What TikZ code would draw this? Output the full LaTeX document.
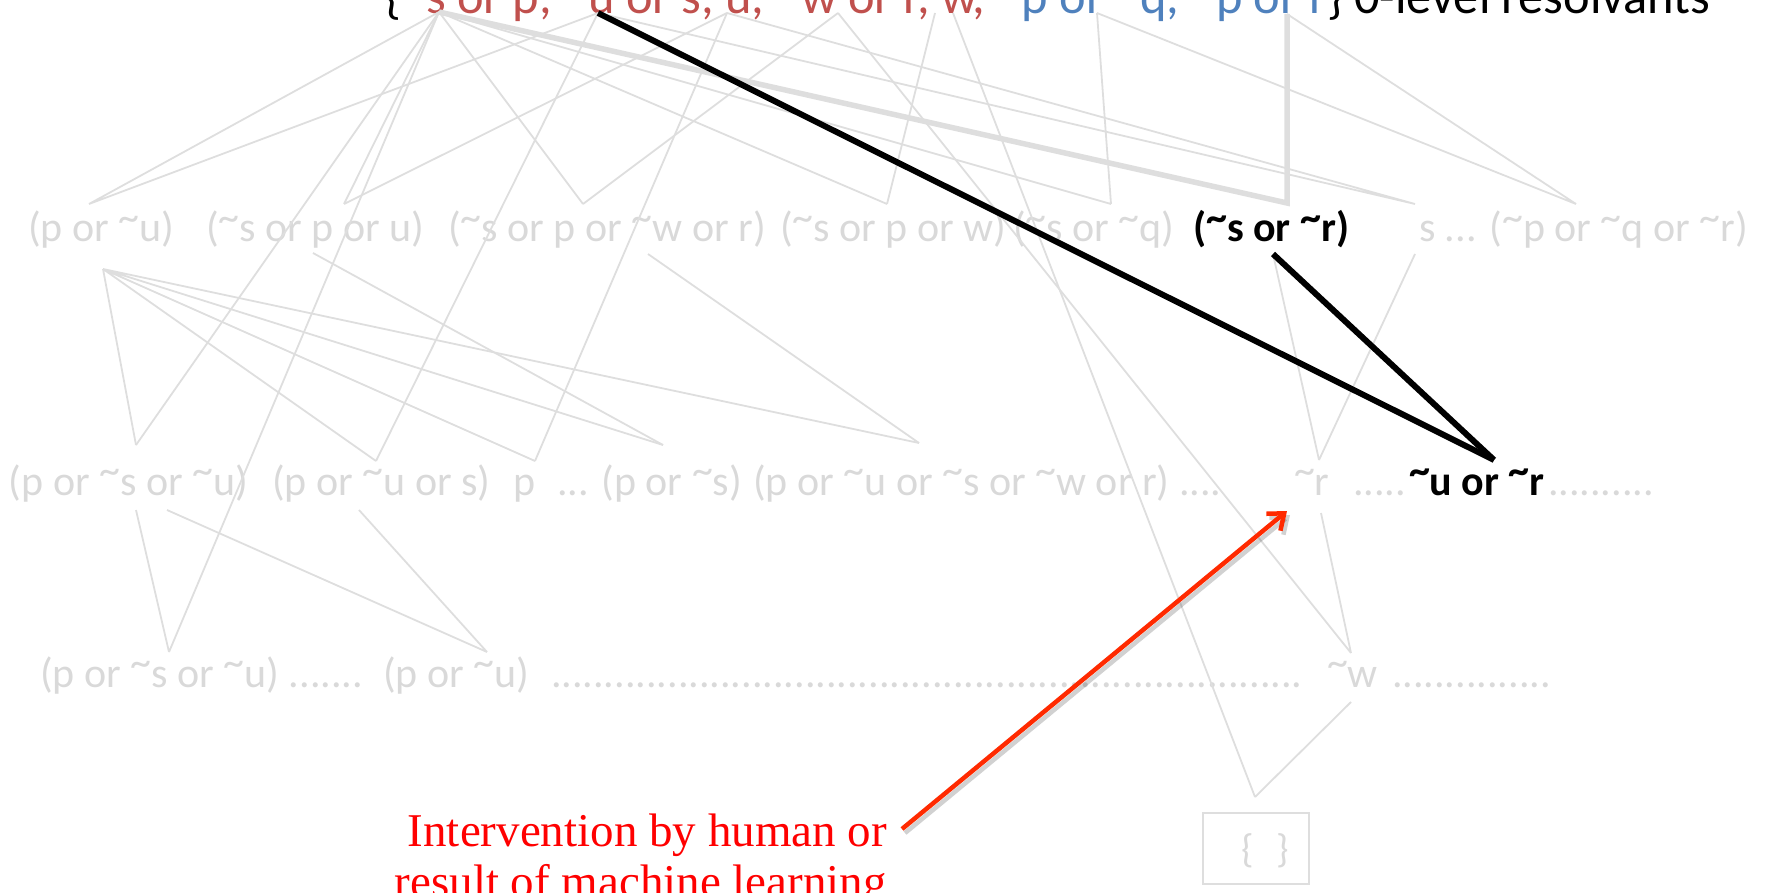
\documentclass[tikz,border=0pt]{standalone}
\usepackage{fontspec}
\setmainfont{Carlito}
\newfontfamily\notefont{Liberation Serif}
\usetikzlibrary{arrows.meta}
\definecolor{lg}{HTML}{DEDEDE}
\definecolor{lt}{HTML}{D9D9D9}
\definecolor{hred}{HTML}{C0504D}
\definecolor{hblue}{HTML}{4F81BD}
\definecolor{arrcol}{HTML}{FF2A00}
\definecolor{notecol}{HTML}{FF0000}
\newcommand{\tl}{\raisebox{0.26em}{\textasciitilde}}
\begin{document}
\begin{tikzpicture}[x=1pt,y=-1pt,
  lbl/.style={anchor=base west, inner sep=0pt, outer sep=0pt, text=lt, font=\fontsize{42}{50}\selectfont},
  hlbl/.style={lbl, text=black, font=\fontsize{42}{50}\selectfont\bfseries},
  edge/.style={draw=lg, line width=1.8pt},
  hotgray/.style={draw=lg, line width=5.5pt},
  blk/.style={draw=black, line width=6pt},
  note/.style={anchor=base east, inner sep=0pt, text=notecol, font=\notefont\fontsize{47}{51}\selectfont},
]
\useasboundingbox (0,0) rectangle (1768,893);

% header
\node[anchor=base west, inner sep=0pt, text=black, font=\fontsize{50.4}{60}\selectfont] (hdr) at (385,14) {\{\textcolor{hred}{\tl s or p, \tl u or s, u, \tl w or r, w,} \textcolor{hblue}{\tl p or \tl q, \tl p or r}\} 0-level resolvants};

% row 1
\node[lbl] (r1a) at (28,242) {(p or \tl u)};
\node[lbl] (r1b) at (206,242) {(\tl s or p or u)};
\node[lbl] (r1c) at (448,242) {(\tl s or p or \tl w or r)};
\node[lbl] (r1d) at (780,242) {(\tl s or p or w)};
\node[lbl] (r1e) at (1013,242) {(\tl s or \tl q)};
\node[hlbl] (r1f) at (1193,242) {(\tl s or \tl r)};
\node[lbl] (r1g) at (1419,242) {s ... (\tl p or \tl q or \tl r)};

% row 2
\node[lbl] (r2a) at (9,495) {(p or \tl s or \tl u)};
\node[lbl] (r2b) at (272,495) {(p or \tl u or s)};
\node[lbl] (r2c) at (513,495) {p};
\node[lbl] (r2d) at (557,495) {... (p or \tl s)};
\node[lbl] (r2e) at (753,495) {(p or \tl u or \tl s or \tl w or r) ....};
\node[lbl] (r2f) at (1294,495) {\tl r};
\node[lbl] (r2g) at (1353,495) {.....};
\node[hlbl] (r2h) at (1409,495) {\tl u or \tl r};
\node[lbl] (r2i) at (1548,495) {..........};

% row 3
\node[lbl] (r3a) at (40,687) {(p or \tl s or \tl u) .......};
\node[lbl] (r3b) at (383,687) {(p or \tl u)};
\node[lbl] (r3c) at (551,687) {.......................................................................};
\node[lbl] (r3d) at (1327,687) {\tl w};
\node[lbl] (r3e) at (1392,687) {...............};

% empty clause
\node[draw=lg, line width=1.8pt, minimum width=106pt, minimum height=71pt, inner sep=0pt] (emptybox) at (1256,848.5) {};
\node[inner sep=0pt, text=lt, font=\fontsize{40}{48}\selectfont] (emptytxt) at (1265,851) {\{\hspace{0.55em}\}};

% note
\node[note] (note1) at (887,846) {Intervention by human or};
\node[note] (note2) at (887,897) {result of machine learning};

% attachment points
\coordinate (vA) at (439,12);
\coordinate (vB) at (598,13);
\coordinate (vC) at (727,13);
\coordinate (vD) at (838,13);
\coordinate (vE) at (935,13);
\coordinate (vE2) at (953,13);
\coordinate (vF) at (1097,13);
\coordinate (vG) at (1287,14);

\coordinate (t1a) at (89,204);
\coordinate (t1b) at (344,204);
\coordinate (t1c) at (583,204);
\coordinate (t1d) at (887,204);
\coordinate (t1e) at (1111,204);
\coordinate (t1f) at (1287,203);
\coordinate (t1g) at (1415,204);
\coordinate (t1h) at (1576,204);

\coordinate (b1a) at (103,269);
\coordinate (b1b) at (313,253);
\coordinate (b1c) at (648,254);
\coordinate (b1f) at (1273,254);
\coordinate (b1g) at (1415,254);

\coordinate (t2a) at (136,445);
\coordinate (t2b) at (376,461);
\coordinate (t2c) at (535,461);
\coordinate (t2d) at (663,445);
\coordinate (t2e) at (919,443);
\coordinate (t2f) at (1319,460);
\coordinate (t2h) at (1494,460);

\coordinate (b2a1) at (136,510);
\coordinate (b2a2) at (167,510);
\coordinate (b2b) at (359,510);
\coordinate (b2f) at (1321,513);

\coordinate (t3a) at (169,652);
\coordinate (t3b) at (487,652);
\coordinate (t3d) at (1351,653);
\coordinate (b3d) at (1351,702);
\coordinate (vEmpty) at (1255,797);

% thin gray connectors
\draw[edge] (t1a) -- (vA) (t1a) -- (vB);
\draw[edge] (t1b) -- (vA) (t1b) -- (vC);
\draw[edge] (t1c) -- (vA) (t1c) -- (vD);
\draw[edge] (t1d) -- (vA) (t1d) -- (vE);
\draw[edge] (t1e) -- (vA) (t1e) -- (vF);
\draw[edge] (t1g) -- (vB) (t1g) -- (vC);
\draw[edge] (t1h) -- (vF) (t1h) -- (vG);
\draw[edge] (b1a) -- (t2a) (b1a) -- (t2b) (b1a) -- (t2c) (b1a) -- (t2d) (b1a) -- (t2e);
\draw[edge] (vA) -- (t2a) (vB) -- (t2b) (vC) -- (t2c);
\draw[edge] (b1b) -- (t2d) (b1c) -- (t2e);
\draw[edge] (b1f) -- (t2f) (b1g) -- (t2f);
\draw[edge] (b2a1) -- (t3a) (vA) -- (t3a);
\draw[edge] (b2a2) -- (t3b) (b2b) -- (t3b);
\draw[edge] (vD) -- (t3d) (b2f) -- (t3d);
\draw[edge] (vE2) -- (vEmpty) (b3d) -- (vEmpty);

% highlighted ancestry
\draw[hotgray] (vA) -- (t1f) -- (vG);
\draw[blk] (vB) -- (t2h);
\draw[blk] (b1f) -- (t2h);

% intervention arrow
\coordinate (arrS) at (902,829);
\coordinate (arrE) at (1287,511);
\draw[line width=4.5pt, draw=black, opacity=0.18, -{Straight Barb[length=14pt,width=22pt]}] ([shift={(3,4)}]arrS) -- ([shift={(3,4)}]arrE);
\draw[line width=4.5pt, draw=arrcol, -{Straight Barb[length=14pt,width=22pt]}] (arrS) -- (arrE);
\end{tikzpicture}
\end{document}
